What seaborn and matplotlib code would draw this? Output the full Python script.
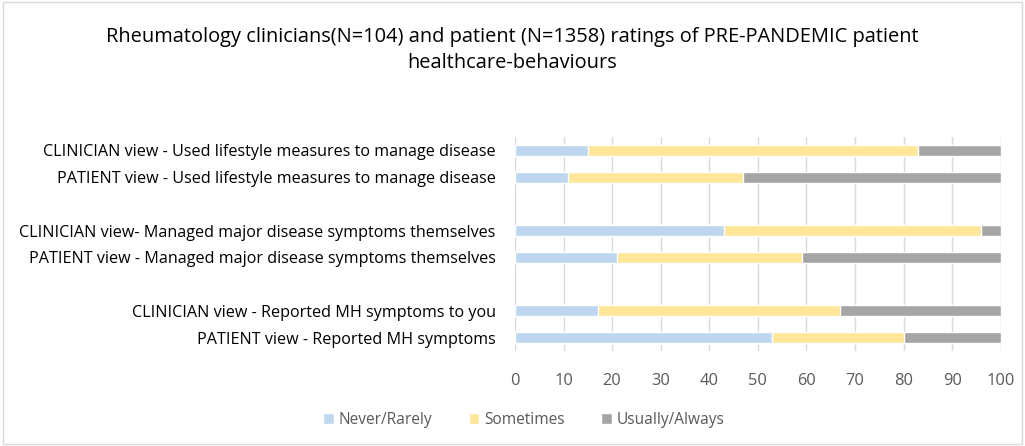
import matplotlib
matplotlib.use("Agg")
import matplotlib.pyplot as plt
import seaborn as sns
import pandas as pd
from matplotlib.patches import FancyBboxPatch

# values (percent)
categories = [
    "CLINICIAN view - Used lifestyle measures to manage disease",
    "PATIENT view - Used lifestyle measures to manage disease",
    "CLINICIAN view- Managed major disease symptoms themselves",
    "PATIENT view - Managed major disease symptoms themselves",
    "CLINICIAN view - Reported MH symptoms to you",
    "PATIENT view - Reported MH symptoms",
]
never_rarely = [15, 11, 43, 21, 17, 53]
sometimes = [68, 36, 53, 38, 50, 27]
usually_always = [17, 53, 4, 41, 33, 20]

series = ["Never/Rarely", "Sometimes", "Usually/Always"]
colors = ["#BDD7EE", "#FFE699", "#A5A5A5"]

# blank rows separate the three pairs
order = [categories[0], categories[1], " ",
         categories[2], categories[3], "  ",
         categories[4], categories[5]]

df = pd.DataFrame({
    "cat": categories,
    "Never/Rarely": never_rarely,
    "Sometimes": sometimes,
    "Usually/Always": usually_always,
})
df["c1"] = df["Never/Rarely"]
df["c2"] = df["c1"] + df["Sometimes"]
df["c3"] = df["c2"] + df["Usually/Always"]

sns.set_style("white")
plt.rcParams["font.family"] = ["Open Sans", "DejaVu Sans"]

fig = plt.figure(figsize=(10.25, 4.46), dpi=100)
ax = fig.add_axes([0.5024, 0.213, 0.4739, 0.48])

for col, color, name in zip(["c3", "c2", "c1"], colors[::-1], series[::-1]):
    sns.barplot(data=df, y="cat", x=col, order=order, color=color,
                orient="h", width=0.41, ax=ax, label=name, saturation=1)

ax.set_xlim(0, 100)
ax.set_xticks(range(0, 101, 10))
ax.xaxis.grid(True, color="#D9D9D9", linewidth=1)
ax.set_axisbelow(True)
ax.set_xlabel("")
ax.set_ylabel("")
for s in ax.spines.values():
    s.set_visible(False)
ax.tick_params(axis="x", colors="#595959", labelsize=11.8, length=0, pad=16)
ax.tick_params(axis="y", colors="#000000", labelsize=11.6, length=0, pad=14)

handles, labels = ax.get_legend_handles_labels()
hmap = dict(zip(labels, handles))
fig.legend([hmap[s] for s in series], series, loc="center",
           bbox_to_anchor=(0.511, 0.058), ncol=3, frameon=False,
           fontsize=11.2, handlelength=0.7, handleheight=0.7,
           columnspacing=2.35, handletextpad=0.3, labelcolor="#595959")
if ax.get_legend():
    ax.get_legend().remove()

fig.text(0.5, 0.888, "Rheumatology clinicians(N=104) and patient (N=1358) ratings of PRE-PANDEMIC patient\nhealthcare-behaviours",
         ha="center", va="center", fontsize=14.4, color="#000000", linespacing=1.45)

fig.patches.append(FancyBboxPatch((0.003, 0.005), 0.994, 0.99,
                                  boxstyle="square,pad=0", transform=fig.transFigure,
                                  fill=False, edgecolor="#D9D9D9", linewidth=1))

fig.savefig("out.png", dpi=100)
